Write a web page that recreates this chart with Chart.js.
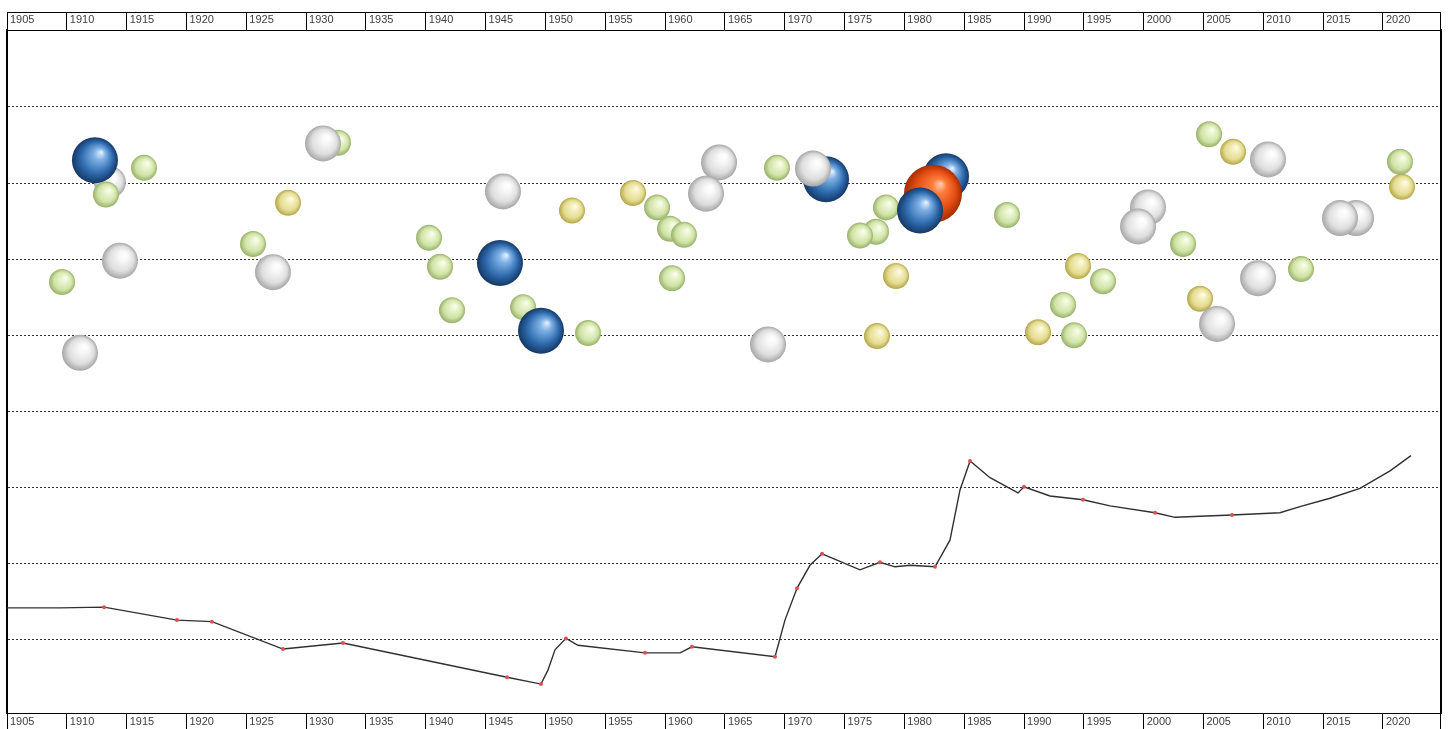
<!DOCTYPE html>
<html>
<head>
<meta charset="utf-8">
<script src="https://cdn.jsdelivr.net/npm/chart.js@4/dist/chart.umd.min.js"></script>
<style>
  html, body { margin: 0; padding: 0; background: #ffffff; overflow: hidden; }
  #wrap { position: absolute; left: 0; top: 0; width: 1451px; height: 729px; }
</style>
</head>
<body>
<div id="wrap"><canvas id="c" width="1451" height="729"></canvas></div>
<script>
// ---- Data ----
const yearTicks = [1905,1910,1915,1920,1925,1930,1935,1940,1945,1950,1955,1960,1965,1970,1975,1980,1985,1990,1995,2000,2005,2010,2015,2020];
const gridValues = [1, 2, 3, 4, 5, 6, 7, 8];

// Bubbles: back-to-front order
const bubbleYears  = [1913.6, 1912.35, 1916.45, 1913.27, 1914.44, 1909.6, 1911.1,
  1932.66, 1931.41, 1928.49, 1925.56, 1927.23,
  1940.27, 1941.19, 1942.19, 1946.45, 1946.2, 1948.13, 1949.63, 1953.56, 1952.22,
  1957.32, 1959.33, 1960.41, 1961.58, 1960.58, 1964.51, 1963.42, 1969.35, 1968.6,
  1973.45, 1972.36, 1978.46, 1977.63, 1976.29, 1979.3, 1977.71,
  1983.48, 1982.39, 1981.31, 1988.58,
  2000.36, 1999.53, 2003.29, 1994.51, 1996.6, 1993.26, 1991.17, 1994.18,
  2005.46, 2007.47, 2010.39, 2004.71, 2006.13, 2009.56, 2013.15,
  2017.75, 2016.41, 2021.42, 2021.59];
const bubbleValues = [7.01, 7.30, 7.20, 6.85, 5.98, 5.70, 4.77,
  7.53, 7.52, 6.74, 6.20, 5.83,
  6.28, 5.90, 5.33, 6.89, 5.95, 5.37, 5.06, 5.03, 6.64,
  6.87, 6.68, 6.40, 6.32, 5.75, 7.27, 6.86, 7.20, 4.88,
  7.05, 7.19, 6.68, 6.36, 6.31, 5.78, 4.99,
  7.09, 6.86, 6.64, 6.58,
  6.68, 6.43, 6.20, 5.91, 5.71, 5.40, 5.04, 5.00,
  7.64, 7.41, 7.31, 5.48, 5.15, 5.75, 5.87,
  6.54, 6.54, 7.28, 6.95];
const bubbleSizes  = [16, 23, 13, 13, 18, 13, 18,
  13, 18, 13, 13, 18,
  13, 13, 13, 18, 23, 13, 23, 13, 13,
  13, 13, 13, 13, 13, 18, 18, 13, 18,
  23, 18, 13, 13, 13, 13, 13,
  23, 29, 23, 13,
  18, 18, 13, 13, 13, 13, 13, 13,
  13, 13, 18, 13, 18, 18, 13,
  18, 18, 13, 13];
const bubbleKinds  = ['white','blue','green','green','white','green','white',
  'green','white','yellow','green','white',
  'green','green','green','white','blue','green','blue','green','yellow',
  'yellow','green','green','green','green','white','white','green','white',
  'blue','white','green','green','green','yellow','yellow',
  'blue','orange','blue','green',
  'white','white','green','yellow','green','green','yellow','green',
  'green','yellow','white','yellow','white','white','green',
  'white','white','green','yellow'];

// Line series
const lineYears  = [1905, 1909.43, 1913.11, 1919.21, 1922.13, 1928.07, 1933.08, 1946.79, 1949.63, 1950.2, 1950.8, 1951.72, 1952.72,
  1958.32, 1961.25, 1962.25, 1969.19, 1970.02, 1971.03, 1972.11, 1973.12, 1976.29, 1977.96, 1979.21, 1980.5, 1981.5, 1982.56,
  1983.81, 1984.65, 1985.49, 1987.16, 1989.5, 1990.0, 1992.17, 1994.93, 1997.19, 2000.95, 2002.62, 2007.38, 2011.39,
  2013.06, 2015.57, 2018.08, 2020.59, 2022.34];
const lineValues = [1.42, 1.42, 1.43, 1.26, 1.24, 0.88, 0.96, 0.51, 0.42, 0.60, 0.87, 1.02, 0.93,
  0.83, 0.83, 0.91, 0.78, 1.26, 1.68, 1.98, 2.13, 1.92, 2.02, 1.96, 1.98, 1.97, 1.96,
  2.31, 2.97, 3.35, 3.13, 2.93, 3.01, 2.89, 2.84, 2.76, 2.67, 2.61, 2.64, 2.67,
  2.75, 2.86, 2.99, 3.22, 3.42];
const lineMarked = [0, 0, 1, 1, 1, 1, 1, 1, 1, 0, 0, 1, 0,
  1, 0, 1, 1, 0, 1, 0, 1, 0, 1, 0, 0, 0, 1,
  0, 0, 1, 0, 0, 1, 0, 1, 0, 1, 0, 1, 0,
  0, 0, 0, 0, 0];

// ---- Styles ----
const sphereColors = {
  blue:   ['#eaf4ff', '#80b2e6', '#2c68ab', '#163864'],
  white:  ['#ffffff', '#f8f8f8', '#dedede', '#a6a6a6'],
  green:  ['#fbfff0', '#ebf6d2', '#d0e3a6', '#98b06a'],
  yellow: ['#fffdea', '#f6f0c4', '#e4dc90', '#b3a54a'],
  orange: ['#ffd2b4', '#ff7c3c', '#e24c12', '#a42d00']
};

function sphereFill(context) {
  const chart = context.chart;
  const raw = context.raw;
  if (!raw || !chart.scales.x || !chart.scales.y) return '#cccccc';
  const cx = chart.scales.x.getPixelForValue(raw.x);
  const cy = chart.scales.y.getPixelForValue(raw.y);
  const r = raw.r;
  if (!isFinite(cx) || !isFinite(cy)) return '#cccccc';
  const c = sphereColors[bubbleKinds[context.dataIndex]];
  const g = chart.ctx.createRadialGradient(cx + r * 0.28, cy - r * 0.35, 0, cx, cy, r);
  g.addColorStop(0, c[0]);
  g.addColorStop(0.25, c[1]);
  g.addColorStop(0.7, c[2]);
  g.addColorStop(1, c[3]);
  return g;
}

const bubbleData = bubbleYears.map((yr, i) => ({ x: yr, y: bubbleValues[i], r: bubbleSizes[i] }));
const lineData = lineYears.map((yr, i) => ({ x: yr, y: lineValues[i] }));

// Outer box lines for the year label rows
const boxPlugin = {
  id: 'boxes',
  afterDraw(chart) {
    const ctx = chart.ctx;
    const xt = chart.scales.x;
    const xb = chart.scales.xb;
    ctx.save();
    ctx.strokeStyle = '#000';
    ctx.lineWidth = 1;
    ctx.beginPath();
    ctx.moveTo(xt.left, xt.top + 0.5);
    ctx.lineTo(xt.right, xt.top + 0.5);
    ctx.moveTo(xt.right - 0.5, xt.top);
    ctx.lineTo(xt.right - 0.5, xt.bottom);
    ctx.moveTo(xb.right - 0.5, xb.top);
    ctx.lineTo(xb.right - 0.5, xb.bottom + 4);
    ctx.stroke();
    ctx.restore();
  }
};

function zeroPad(scale) {
  scale.paddingLeft = 0; scale.paddingRight = 0;
  scale.paddingTop = 0; scale.paddingBottom = 0;
}

const xAxisCommon = (position, pad, h) => ({
  type: 'linear',
  position: position,
  min: 1905,
  max: 2024.85,
  afterBuildTicks: (scale) => { scale.ticks = yearTicks.map(v => ({ value: v })); },
  afterFit: (scale) => { scale.height = h; zeroPad(scale); },
  ticks: {
    includeBounds: false,
    align: 'start',
    padding: pad,
    labelOffset: 3,
    maxRotation: 0,
    autoSkip: false,
    color: '#404040',
    font: { family: 'Liberation Sans', size: 11 },
    callback: (v) => String(v)
  },
  grid: { drawOnChartArea: false, drawTicks: true, tickLength: 18, tickColor: '#000', tickWidth: 1 },
  border: { display: true, color: '#000', width: 1 }
});

new Chart(document.getElementById('c'), {
  type: 'bubble',
  data: {
    datasets: [
      {
        type: 'line',
        data: lineData,
        borderColor: '#303030',
        borderWidth: 1.4,
        tension: 0,
        pointRadius: (ctx) => lineMarked[ctx.dataIndex] ? 2 : 0,
        pointBackgroundColor: '#e05050',
        pointBorderColor: '#e05050',
        pointBorderWidth: 0,
        xAxisID: 'x',
        yAxisID: 'y',
        order: 2
      },
      {
        type: 'bubble',
        data: bubbleData,
        backgroundColor: sphereFill,
        borderWidth: 0,
        xAxisID: 'x',
        yAxisID: 'y',
        order: 1
      }
    ]
  },
  plugins: [boxPlugin],
  options: {
    responsive: false,
    animation: false,
    events: [],
    layout: { autoPadding: false, padding: { left: 7, right: 10, top: 12, bottom: 0 } },
    plugins: { legend: { display: false }, tooltip: { enabled: false } },
    scales: {
      x: xAxisCommon('top', -15, 18),
      xb: xAxisCommon('bottom', -16, 16),
      y: {
        type: 'linear',
        position: 'left',
        min: 0.04,
        max: 9.01,
        afterBuildTicks: (scale) => { scale.ticks = gridValues.map(v => ({ value: v })); },
        afterFit: (scale) => { scale.width = 0; zeroPad(scale); },
        ticks: { display: false },
        grid: { color: '#333', lineWidth: 1, drawTicks: false },
        border: { display: true, color: '#000', width: 2, dash: [2, 2] }
      },
      y2: {
        type: 'linear',
        position: 'right',
        min: 0.04,
        max: 9.01,
        afterFit: (scale) => { scale.width = 0; zeroPad(scale); },
        ticks: { display: false },
        grid: { drawOnChartArea: false, drawTicks: false },
        border: { display: true, color: '#000', width: 2 }
      }
    }
  }
});
</script>
</body>
</html>
